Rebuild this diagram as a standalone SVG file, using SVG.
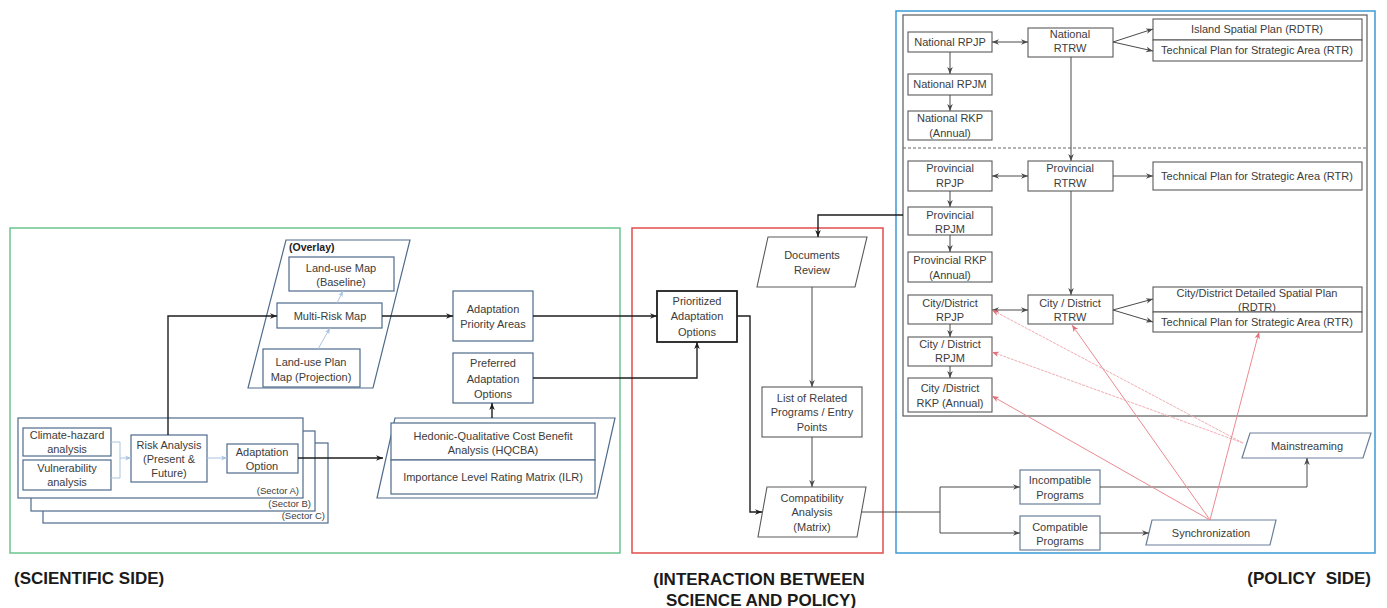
<svg xmlns="http://www.w3.org/2000/svg" width="1387" height="608" viewBox="0 0 1387 608">
<style>
.bx{fill:#fff;stroke:#4f6b8c;stroke-width:1.2}
.gb{fill:#fff;stroke:#5a5a5a;stroke-width:1.1}
.kb{fill:#fff;stroke:#1e1e1e;stroke-width:1.8}
.t{font-family:"Liberation Sans",Arial,sans-serif;font-size:11px;fill:#3c3c3c;text-anchor:middle}
.ts{font-family:"Liberation Sans",Arial,sans-serif;font-size:9.5px;fill:#3c3c3c;text-anchor:end}
.tb{font-family:"Liberation Sans",Arial,sans-serif;font-size:17px;font-weight:bold;fill:#1a1a1a}
.c{fill:none;stroke:#1e1e1e;stroke-width:1.4}
.cg{fill:none;stroke:#4a4a4a;stroke-width:1}
.cl{fill:none;stroke:#a9c3df;stroke-width:1}
.cp{fill:none;stroke:#eb8a90;stroke-width:1}
.cpl{fill:none;stroke:#f0aeb2;stroke-width:1;stroke-dasharray:3 1}
</style>
<defs>
<marker id="ah" viewBox="0 0 10 10" refX="10" refY="5" markerWidth="7" markerHeight="7" markerUnits="userSpaceOnUse" orient="auto-start-reverse"><path d="M0,1 L10,5 L0,9 L3,5 z" fill="#1e1e1e"/></marker>
<marker id="ahg" viewBox="0 0 10 10" refX="10" refY="5" markerWidth="7" markerHeight="7" markerUnits="userSpaceOnUse" orient="auto-start-reverse"><path d="M0,1 L10,5 L0,9 L3,5 z" fill="#4a4a4a"/></marker>
<marker id="ahl" viewBox="0 0 10 10" refX="10" refY="5" markerWidth="6" markerHeight="6" markerUnits="userSpaceOnUse" orient="auto"><path d="M0,1 L10,5 L0,9 L3,5 z" fill="#a9c3df"/></marker>
<marker id="ahp" viewBox="0 0 10 10" refX="10" refY="5" markerWidth="7" markerHeight="7" markerUnits="userSpaceOnUse" orient="auto"><path d="M0,1 L10,5 L0,9 L3,5 z" fill="#e0707a"/></marker>
</defs>
<rect width="1387" height="608" fill="#fff"/>

<g id="frames">
<rect x="10" y="228" width="610" height="325" fill="none" stroke="#6cc58e" stroke-width="1.5"/>
<rect x="632" y="228" width="251" height="325" fill="none" stroke="#e24d4d" stroke-width="1.5"/>
<rect x="896" y="11" width="479" height="542" fill="none" stroke="#3d9ad6" stroke-width="1.5"/>
<rect x="903" y="15" width="464" height="401" fill="none" stroke="#5a5a5a" stroke-width="1.2"/>
<line x1="903" y1="148" x2="1367" y2="148" stroke="#666" stroke-width="1" stroke-dasharray="3 2"/>
</g>

<g id="sectorC"><rect class="bx" x="43" y="443" width="285" height="80"/><text class="ts" x="325" y="519">(Sector C)</text></g>
<g id="sectorB"><rect class="bx" x="31" y="431" width="284" height="80"/><text class="ts" x="311" y="507">(Sector B)</text></g>
<g id="sectorA"><rect class="bx" x="18" y="418" width="285" height="80"/><text class="ts" x="299" y="494">(Sector A)</text></g>
<g id="climate"><rect class="bx" x="23" y="428" width="88" height="28"/><text class="t" x="67" y="439">Climate-hazard</text><text class="t" x="67" y="453">analysis</text></g>
<g id="vulnerability"><rect class="bx" x="23" y="460" width="88" height="30"/><text class="t" x="67" y="472">Vulnerability</text><text class="t" x="67" y="486">analysis</text></g>
<g id="risk"><rect class="bx" x="131" y="435" width="76" height="47"/><text class="t" x="169" y="449">Risk Analysis</text><text class="t" x="169" y="463">(Present &amp;</text><text class="t" x="169" y="477">Future)</text></g>
<g id="adaptOption"><rect class="bx" x="227" y="444" width="71" height="29"/><text class="t" x="262" y="456">Adaptation</text><text class="t" x="262" y="470">Option</text></g>

<g id="overlay"><polygon class="bx" points="286,240 410,240 373,388 248,388"/><text x="289" y="251" style="font-family:'Liberation Sans',Arial,sans-serif;font-size:10.5px;font-weight:bold;fill:#222">(Overlay)</text></g>
<g id="landuseMap"><rect class="bx" x="289" y="257" width="105" height="34"/><text class="t" x="341" y="272">Land-use Map</text><text class="t" x="341" y="286">(Baseline)</text></g>
<g id="multiRisk"><rect class="bx" x="277" y="303" width="105" height="25"/><text class="t" x="330" y="320">Multi-Risk Map</text></g>
<g id="landusePlan"><rect class="bx" x="263" y="349" width="97" height="38"/><text class="t" x="311" y="366">Land-use Plan</text><text class="t" x="311" y="381">Map (Projection)</text></g>

<g id="priorityAreas"><rect class="bx" x="453" y="291" width="80" height="50"/><text class="t" x="493" y="313">Adaptation</text><text class="t" x="493" y="328">Priority Areas</text></g>
<g id="preferred"><rect class="bx" x="453" y="353" width="80" height="50"/><text class="t" x="493" y="367">Preferred</text><text class="t" x="493" y="383">Adaptation</text><text class="t" x="493" y="398">Options</text></g>
<g id="hedonic"><polygon class="bx" points="395,418 615,418 597,498 377,498"/>
<rect class="bx" x="391" y="423" width="204" height="37"/><rect class="bx" x="391" y="460" width="204" height="34"/>
<text class="t" x="493" y="440">Hedonic-Qualitative Cost Benefit</text><text class="t" x="493" y="454">Analysis (HQCBA)</text><text class="t" x="493" y="481">Importance Level Rating Matrix (ILR)</text></g>

<g id="prioritized"><rect class="kb" x="657" y="291" width="80" height="51"/><text class="t" x="697" y="305">Prioritized</text><text class="t" x="697" y="320">Adaptation</text><text class="t" x="697" y="336">Options</text></g>
<g id="docReview"><polygon class="gb" points="768,237 867,237 855,287 757,287"/><text class="t" x="812" y="259">Documents</text><text class="t" x="812" y="274">Review</text></g>
<g id="listPrograms"><rect class="gb" x="762" y="387" width="100" height="50"/><text class="t" x="812" y="402">List of Related</text><text class="t" x="812" y="416">Programs / Entry</text><text class="t" x="812" y="431">Points</text></g>
<g id="compatAnalysis"><polygon class="gb" points="767,487 866,487 857,537 758,537"/><text class="t" x="812" y="502">Compatibility</text><text class="t" x="812" y="516">Analysis</text><text class="t" x="812" y="531">(Matrix)</text></g>

<g id="natRPJP"><rect class="gb" x="908" y="32" width="84" height="20"/><text class="t" x="950" y="46">National RPJP</text></g>
<g id="natRTRW"><rect class="gb" x="1028" y="28" width="85" height="29"/><text class="t" x="1070" y="38">National</text><text class="t" x="1070" y="52">RTRW</text></g>
<g id="natRPJM"><rect class="gb" x="908" y="74" width="84" height="21"/><text class="t" x="950" y="88">National RPJM</text></g>
<g id="natRKP"><rect class="gb" x="908" y="111" width="84" height="29"/><text class="t" x="950" y="122">National RKP</text><text class="t" x="950" y="137">(Annual)</text></g>
<g id="islandPlan"><rect class="gb" x="1153" y="19" width="209" height="21"/><text class="t" x="1257" y="33">Island Spatial Plan (RDTR)</text></g>
<g id="natTech"><rect class="gb" x="1153" y="40" width="209" height="21"/><text class="t" x="1257" y="54">Technical Plan for Strategic Area (RTR)</text></g>

<g id="provRPJP"><rect class="gb" x="908" y="161" width="84" height="30"/><text class="t" x="950" y="172">Provincial</text><text class="t" x="950" y="187">RPJP</text></g>
<g id="provRTRW"><rect class="gb" x="1028" y="161" width="85" height="30"/><text class="t" x="1070" y="172">Provincial</text><text class="t" x="1070" y="187">RTRW</text></g>
<g id="provRPJM"><rect class="gb" x="908" y="207" width="84" height="28"/><text class="t" x="950" y="219">Provincial</text><text class="t" x="950" y="233">RPJM</text></g>
<g id="provRKP"><rect class="gb" x="908" y="252" width="84" height="30"/><text class="t" x="950" y="264">Provincial RKP</text><text class="t" x="950" y="279">(Annual)</text></g>
<g id="provTech"><rect class="gb" x="1153" y="162" width="209" height="28"/><text class="t" x="1257" y="180">Technical Plan for Strategic Area (RTR)</text></g>

<g id="cityRPJP"><rect class="gb" x="908" y="295" width="84" height="29"/><text class="t" x="950" y="307">City/District</text><text class="t" x="950" y="321">RPJP</text></g>
<g id="cityRTRW"><rect class="gb" x="1028" y="295" width="85" height="29"/><text class="t" x="1070" y="307">City / District</text><text class="t" x="1070" y="321">RTRW</text></g>
<g id="cityRPJM"><rect class="gb" x="908" y="337" width="84" height="29"/><text class="t" x="950" y="348">City / District</text><text class="t" x="950" y="362">RPJM</text></g>
<g id="cityRKP"><rect class="gb" x="908" y="378" width="84" height="34"/><text class="t" x="950" y="392">City /District</text><text class="t" x="950" y="407">RKP (Annual)</text></g>
<g id="cityRDTR"><rect class="gb" x="1153" y="287" width="209" height="25"/><text class="t" x="1257" y="297">City/District Detailed Spatial Plan</text><text class="t" x="1257" y="311">(RDTR)</text></g>
<g id="cityTech"><rect class="gb" x="1153" y="312" width="209" height="20"/><text class="t" x="1257" y="326">Technical Plan for Strategic Area (RTR)</text></g>

<g id="incompatible"><rect class="bx" x="1020" y="470" width="80" height="34" style="stroke:#6a7f99"/><text class="t" x="1060" y="484">Incompatible</text><text class="t" x="1060" y="499">Programs</text></g>
<g id="compatible"><rect class="bx" x="1020" y="516" width="80" height="34" style="stroke:#6a7f99"/><text class="t" x="1060" y="531">Compatible</text><text class="t" x="1060" y="545">Programs</text></g>
<g id="mainstreaming"><polygon class="bx" points="1250,433 1371,433 1363,458 1242,458" style="stroke:#6a7f99"/><text class="t" x="1307" y="450">Mainstreaming</text></g>
<g id="synchronization"><polygon class="bx" points="1152,520 1276,520 1270,545 1146,545" style="stroke:#6a7f99"/><text class="t" x="1211" y="537">Synchronization</text></g>

<g id="connectors">
<polyline class="cl" points="111,442 120,442 120,478 111,478"/>
<line class="cl" x1="120" y1="458" x2="131" y2="458" marker-end="url(#ahl)"/>
<line class="cl" x1="207" y1="458" x2="227" y2="458" marker-end="url(#ahl)"/>
<line class="cl" x1="318" y1="349" x2="330" y2="328" marker-end="url(#ahl)"/>
<line class="cl" x1="337" y1="303" x2="343" y2="291" marker-end="url(#ahl)"/>
<polyline class="c" points="168,435 168,316 277,316" marker-end="url(#ah)"/>
<line class="c" x1="382" y1="316" x2="453" y2="316" marker-end="url(#ah)"/>
<line class="c" x1="298" y1="458" x2="383" y2="458" marker-end="url(#ah)"/>
<line class="c" x1="492" y1="418" x2="492" y2="403" marker-end="url(#ah)"/>
<line class="c" x1="533" y1="316" x2="657" y2="316" marker-end="url(#ah)"/>
<polyline class="c" points="533,378 697,378 697,342" marker-end="url(#ah)"/>
<polyline class="c" points="737,316 750,316 750,512 762,512" marker-end="url(#ah)"/>
<polyline class="c" points="903,215 818,215 818,237" marker-end="url(#ah)"/>
<line class="cg" x1="812" y1="287" x2="812" y2="387" marker-end="url(#ahg)"/>
<line class="cg" x1="812" y1="437" x2="812" y2="487" marker-end="url(#ahg)"/>
<line class="cg" x1="861" y1="512" x2="940" y2="512"/>
<line class="cg" x1="940" y1="487" x2="940" y2="533"/>
<line class="cg" x1="940" y1="487" x2="1020" y2="487" marker-end="url(#ahg)"/>
<line class="cg" x1="940" y1="533" x2="1020" y2="533" marker-end="url(#ahg)"/>
<polyline class="cg" points="1100,487 1307,487 1307,458" marker-end="url(#ahg)"/>
<line class="cg" x1="1100" y1="533" x2="1149" y2="533" marker-end="url(#ahg)"/>
<line class="cg" x1="992" y1="42" x2="1028" y2="42" marker-start="url(#ahg)" marker-end="url(#ahg)"/>
<line class="cg" x1="1113" y1="42" x2="1153" y2="29" marker-end="url(#ahg)"/>
<line class="cg" x1="1113" y1="42" x2="1153" y2="51" marker-end="url(#ahg)"/>
<line class="cg" x1="950" y1="52" x2="950" y2="74" marker-end="url(#ahg)"/>
<line class="cg" x1="950" y1="95" x2="950" y2="111" marker-end="url(#ahg)"/>
<line class="cg" x1="1071" y1="57" x2="1071" y2="161" marker-end="url(#ahg)"/>
<line class="cg" x1="992" y1="176" x2="1028" y2="176" marker-start="url(#ahg)" marker-end="url(#ahg)"/>
<line class="cg" x1="1113" y1="176" x2="1153" y2="176" marker-end="url(#ahg)"/>
<line class="cg" x1="950" y1="191" x2="950" y2="207" marker-end="url(#ahg)"/>
<line class="cg" x1="950" y1="235" x2="950" y2="252" marker-end="url(#ahg)"/>
<line class="cg" x1="1071" y1="191" x2="1071" y2="295" marker-end="url(#ahg)"/>
<line class="cg" x1="992" y1="310" x2="1028" y2="310" marker-start="url(#ahg)" marker-end="url(#ahg)"/>
<line class="cg" x1="1113" y1="310" x2="1153" y2="299" marker-end="url(#ahg)"/>
<line class="cg" x1="1113" y1="310" x2="1153" y2="322" marker-end="url(#ahg)"/>
<line class="cg" x1="950" y1="324" x2="950" y2="337" marker-end="url(#ahg)"/>
<line class="cg" x1="950" y1="366" x2="950" y2="378" marker-end="url(#ahg)"/>
<line class="cpl" x1="1243" y1="443" x2="992" y2="310" marker-end="url(#ahp)"/>
<line class="cpl" x1="1243" y1="443" x2="992" y2="352" marker-end="url(#ahp)"/>
<line class="cp" x1="1210" y1="520" x2="1072" y2="325" marker-end="url(#ahp)"/>
<line class="cp" x1="1210" y1="520" x2="992" y2="396" marker-end="url(#ahp)"/>
<line class="cp" x1="1210" y1="520" x2="1259" y2="332" marker-end="url(#ahp)"/>
</g>

<g id="labels">
<text class="tb" x="14" y="584">(SCIENTIFIC SIDE)</text>
<text class="tb" x="759" y="585" text-anchor="middle">(INTERACTION BETWEEN</text>
<text class="tb" x="761" y="606" text-anchor="middle">SCIENCE AND POLICY)</text>
<text class="tb" x="1371" y="584" text-anchor="end">(POLICY&#160; SIDE)</text>
</g>
</svg>
